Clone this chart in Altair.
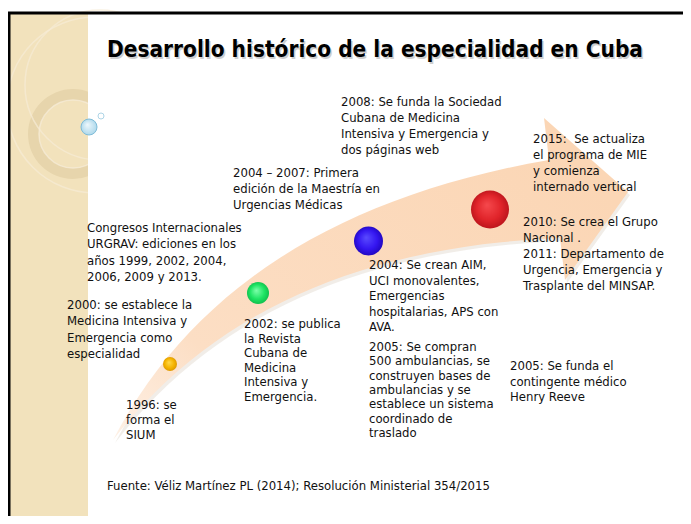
import altair as alt
import pandas as pd

# ---------------- content ----------------
title_text = "Desarrollo histórico de la especialidad en Cuba"
source_text = "Fuente: Véliz Martínez PL (2014); Resolución Ministerial 354/2015"

event_blocks = [
    ["1996: se", "forma el", "SIUM"],
    ["2000: se establece la", "Medicina Intensiva y", "Emergencia como", "especialidad"],
    ["Congresos Internacionales", "URGRAV: ediciones en los", "años 1999, 2002, 2004,", "2006, 2009 y 2013."],
    ["2002: se publica", "la Revista", "Cubana de", "Medicina", "Intensiva y", "Emergencia."],
    ["2004 – 2007: Primera", "edición de la Maestría en", "Urgencias Médicas"],
    ["2004: Se crean AIM,", "UCI monovalentes,", "Emergencias", "hospitalarias, APS con", "AVA."],
    ["2005: Se compran", "500 ambulancias, se", "construyen bases de", "ambulancias y se",
     "establece un sistema", "coordinado de", "traslado"],
    ["2008: Se funda la Sociedad", "Cubana de Medicina", "Intensiva y Emergencia y", "dos páginas web"],
    ["2010: Se crea el Grupo", "Nacional .", "2011: Departamento de", "Urgencia, Emergencia y",
     "Trasplante del MINSAP."],
    ["2015:\u00a0 Se actualiza", "el programa de MIE", "y comienza", "internado vertical"],
    ["2005: Se funda el", "contingente médico", "Henry Reeve"],
]

milestones = ["1996", "2002", "2004", "2010"]
milestone_colors = [
    ("#ffd84a", "#f5b400", "#d99400"),
    ("#7dffaa", "#1de463", "#0fb84a"),
    ("#5a4bff", "#3416f0", "#1e05b8"),
    ("#f5494d", "#e0242a", "#b5121a"),
]

# ---------------- layout (page pixels) ----------------
block_anchor = [
    (126, 405, 15.0), (67, 305, 16.3), (87, 228, 16.3), (244, 324, 14.6),
    (233, 172.5, 16.4), (369, 265, 15.5), (369, 347, 14.3), (341, 101.5, 16.0),
    (523, 221.7, 16.0), (533, 138.5, 16.3), (510, 366, 15.5),
]
ball_pos = [(170, 364, 14), (258, 293, 22), (368.5, 241, 29), (490, 209.5, 38)]

# arrow geometry (quadratic curves + head)
tail = (113, 440)
upper_ctrl, upper_end = (230, 215), (549, 160)
lower_ctrl, lower_end = (260, 250), (560, 238)
head_pts = [(544, 118), (628, 192), (565, 280)]

FONT = "DejaVu Sans Condensed, DejaVu Sans"
W, H = 675, 508
XD = [8, 8 + W]
YD = [8, 8 + H]


def X(f="x"):
    return alt.X(f, type="quantitative", scale=alt.Scale(domain=XD, nice=False, zero=False), axis=None)


def Y(f="y"):
    return alt.Y(f, type="quantitative", scale=alt.Scale(domain=YD, nice=False, zero=False, reverse=True), axis=None)


def quad(p0, c, p2, n=30):
    pts = []
    for k in range(n + 1):
        t = k / n
        x = (1 - t) ** 2 * p0[0] + 2 * t * (1 - t) * c[0] + t ** 2 * p2[0]
        y = (1 - t) ** 2 * p0[1] + 2 * t * (1 - t) * c[1] + t ** 2 * p2[1]
        pts.append((x, y))
    return pts


poly = quad(tail, upper_ctrl, upper_end) + head_pts + quad(tail, lower_ctrl, lower_end)[::-1]
arrow_df = pd.DataFrame({"i": range(len(poly)), "x": [p[0] for p in poly], "y": [p[1] for p in poly]})
shadow_df = arrow_df.assign(x=arrow_df.x + 2, y=arrow_df.y + 3)

# ---------------- background pieces ----------------
band = alt.Chart(pd.DataFrame({"x": [10], "x2": [88], "y": [14], "y2": [524]})).mark_rect(
    color="#f2e2bc").encode(x=X(), x2="x2", y=Y(), y2="y2")

ring = alt.Chart(pd.DataFrame({"x": [73], "y": [134]})).mark_arc(
    radius=45, radius2=34, theta=0, theta2=6.2832, color="#e7d5ac").encode(x=X(), y=Y())
ring_hi = alt.Chart(pd.DataFrame({"x": [73], "y": [134]})).mark_point(
    shape="circle", size=68 * 68, filled=False, stroke="#f8eedb", strokeWidth=1.5).encode(x=X(), y=Y())
thin1 = alt.Chart(pd.DataFrame({"x": [100, 95], "y": [85, 105], "s": [150 * 150, 176 * 176]})).mark_point(
    shape="circle", filled=False, stroke="#f7ecd6", strokeWidth=1.6).encode(
    x=X(), y=Y(), size=alt.Size("s:Q", scale=None))

cover = alt.Chart(pd.DataFrame({"x": [88], "x2": [691], "y": [14], "y2": [524]})).mark_rect(
    color="white").encode(x=X(), x2="x2", y=Y(), y2="y2")

top_border = alt.Chart(pd.DataFrame({"x": [8], "x2": [691], "y": [13]})).mark_rule(
    color="black", strokeWidth=3).encode(x=X(), x2="x2", y=Y())
left_border = alt.Chart(pd.DataFrame({"x": [9], "y": [12], "y2": [524]})).mark_rule(
    color="black", strokeWidth=3).encode(x=X(), y=Y(), y2="y2")

bubble = alt.Chart(pd.DataFrame({"x": [89], "y": [127]})).mark_point(
    shape="circle", size=16 * 16, filled=True, opacity=1, strokeWidth=1, stroke="#7fbcd8",
    fill=alt.RadialGradient(gradient="radial", x1=0.4, y1=0.35, r1=0, x2=0.5, y2=0.5, r2=0.55,
                            stops=[alt.GradientStop(color="#eef8fc", offset=0),
                                   alt.GradientStop(color="#a9d6ea", offset=1)])).encode(x=X(), y=Y())
bubble2 = alt.Chart(pd.DataFrame({"x": [101], "y": [116]})).mark_point(
    shape="circle", size=36, filled=False, stroke="#8cc4dc", strokeWidth=1).encode(x=X(), y=Y())

# ---------------- title ----------------
title_shadow = alt.Chart(pd.DataFrame({"x": [108.5], "y": [51.5], "t": [title_text]})).mark_text(
    align="left", baseline="middle", font=FONT, fontSize=22.45, fontWeight="bold",
    color="#b0b0b0", opacity=0.6).encode(x=X(), y=Y(), text="t:N")
title = alt.Chart(pd.DataFrame({"x": [107], "y": [50], "t": [title_text]})).mark_text(
    align="left", baseline="middle", font=FONT, fontSize=22.45, fontWeight="bold",
    color="#000000").encode(x=X(), y=Y(), text="t:N")

# ---------------- arrow ----------------
arrow_shadow = alt.Chart(shadow_df).mark_line(
    filled=True, fill="#d8cbbd", fillOpacity=0.35, strokeOpacity=0, interpolate="linear").encode(
    x=X(), y=Y(), order="i:Q")
arrow = alt.Chart(arrow_df).mark_line(
    filled=True, strokeOpacity=0, interpolate="linear",
    fill=alt.LinearGradient(gradient="linear", x1=0, y1=1, x2=1, y2=0.3,
                            stops=[alt.GradientStop(color="#fef1e6", offset=0),
                                   alt.GradientStop(color="#fcdec4", offset=0.25),
                                   alt.GradientStop(color="#fbd6b5", offset=1)])).encode(
    x=X(), y=Y(), order="i:Q")

# ---------------- balls ----------------
balls = []
for k, m in enumerate(milestones):
    hi, mid, lo = milestone_colors[k]
    bx, by, d = ball_pos[k]
    dfb = pd.DataFrame({"x": [bx], "y": [by], "m": [m], "s": [d * d]})
    balls.append(alt.Chart(dfb).mark_point(
        shape="circle", filled=True, opacity=1, strokeOpacity=0,
        fill=alt.RadialGradient(gradient="radial", x1=0.42, y1=0.38, r1=0, x2=0.5, y2=0.5, r2=0.55,
                                stops=[alt.GradientStop(color=hi, offset=0),
                                       alt.GradientStop(color=mid, offset=0.6),
                                       alt.GradientStop(color=lo, offset=1)])).encode(
        x=X(), y=Y(), size=alt.Size("s:Q", scale=None), tooltip="m:N"))

# ---------------- event texts ----------------
rows = []
for blk, (bx, by, lh) in zip(event_blocks, block_anchor):
    for j, line in enumerate(blk):
        rows.append({"x": bx, "y": by + j * lh, "t": line})
text_df = pd.DataFrame(rows)
texts = alt.Chart(text_df).mark_text(
    align="left", baseline="middle", font=FONT, fontSize=13, color="#111111").encode(
    x=X(), y=Y(), text="t:N")

source = alt.Chart(pd.DataFrame({"x": [107], "y": [486], "t": [source_text]})).mark_text(
    align="left", baseline="middle", font=FONT, fontSize=13, color="#111111").encode(
    x=X(), y=Y(), text="t:N")

chart = alt.layer(
    band, ring, ring_hi, thin1, cover, top_border, left_border, bubble, bubble2,
    title_shadow, title, arrow_shadow, arrow, *balls, texts, source
).properties(
    width=W, height=H, padding=0, background="white",
    autosize=alt.AutoSizeParams(type="none"),
).configure_view(stroke=None)

chart.save("out.html", embed_options={"renderer": "svg", "actions": False})
